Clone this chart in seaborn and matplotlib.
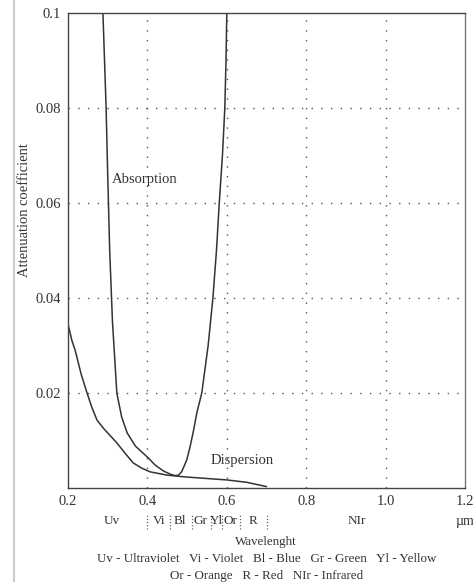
import matplotlib
matplotlib.use("Agg")
import matplotlib.pyplot as plt
from matplotlib.lines import Line2D
import seaborn as sns
import pandas as pd

# Absorption curve (wavelength in micrometres, attenuation coefficient)
absorption_x = [0.288, 0.292, 0.296, 0.300, 0.305, 0.312, 0.323, 0.335, 0.349,
                0.370, 0.400, 0.420, 0.440, 0.458, 0.470, 0.478, 0.486, 0.492,
                0.499, 0.507, 0.515, 0.525, 0.537, 0.553, 0.565, 0.574, 0.581,
                0.589, 0.595, 0.598, 0.600]
absorption_y = [0.100, 0.090, 0.080, 0.066, 0.050, 0.035, 0.020, 0.015, 0.0116,
                0.0088, 0.0065, 0.0048, 0.0036, 0.0029, 0.0026, 0.0027, 0.0034, 0.0045,
                0.0059, 0.0085, 0.0116, 0.0160, 0.020, 0.030, 0.040, 0.050, 0.060,
                0.070, 0.080, 0.090, 0.100]

# Dispersion curve
dispersion_x = [0.200, 0.210, 0.218, 0.233, 0.248, 0.260, 0.273, 0.290, 0.323,
                0.345, 0.364, 0.385, 0.407, 0.450, 0.500, 0.550, 0.600, 0.650, 0.700]
dispersion_y = [0.0345, 0.031, 0.029, 0.024, 0.020, 0.017, 0.0143, 0.0125, 0.0095,
                0.0072, 0.0053, 0.0042, 0.0034, 0.0027, 0.0023, 0.0020, 0.0017, 0.0012, 0.0003]

# Axis ticks
x_ticks = [0.2, 0.4, 0.6, 0.8, 1.0, 1.2]
x_tick_labels = ["0.2", "0.4", "0.6", "0.8", "1.0", "1.2"]
y_ticks = [0.02, 0.04, 0.06, 0.08, 0.1]
y_tick_labels = ["0.02", "0.04", "0.06", "0.08", "0.1"]

# Spectral bands below the axis
band_edges = [0.400, 0.457, 0.512, 0.559, 0.589, 0.633, 0.700]
band_labels = ["Uv", "Vi", "Bl", "Gr", "Yl", "Or", "R", "NIr"]
band_centers = [0.310, 0.430, 0.482, 0.534, 0.574, 0.610, 0.665, 0.928]

legend_lines = ["Uv - Ultraviolet   Vi - Violet   Bl - Blue   Gr - Green   Yl - Yellow",
                "Or - Orange   R - Red   NIr - Infrared"]

ink = "#333333"
serif = ["Liberation Serif", "DejaVu Serif"]

sns.set_theme(style="white")
plt.rcParams["font.family"] = serif
plt.rcParams["text.color"] = ink

fig = plt.figure(figsize=(4.73, 5.82), dpi=100)
ax = fig.add_axes([68 / 473, 1 - 488 / 582, 397 / 473, 475 / 582])

df_abs = pd.DataFrame({"x": absorption_x, "y": absorption_y})
df_dis = pd.DataFrame({"x": dispersion_x, "y": dispersion_y})
sns.lineplot(data=df_abs, x="x", y="y", ax=ax, color=ink, linewidth=1.1,
             sort=False, estimator=None)
sns.lineplot(data=df_dis, x="x", y="y", ax=ax, color=ink, linewidth=1.1,
             sort=False, estimator=None)

ax.set_xlim(0.2, 1.2)
ax.set_ylim(0.0, 0.1)
ax.set_xticks(x_ticks)
ax.set_xticklabels(x_tick_labels)
ax.set_yticks(y_ticks)
ax.set_yticklabels(y_tick_labels)
ax.tick_params(axis="both", length=0, pad=5, labelsize=10.5, labelcolor=ink)
ax.set_xlabel("")
ax.set_ylabel("")

# Y axis title, set a little above the axis midpoint
fig.text(25 / 473, 1 - 210 / 582, "Attenuation coefficient", rotation=90,
         ha="center", va="center", fontsize=10.5, color=ink)

# Dotted grid
for gx in [0.4, 0.6, 0.8, 1.0]:
    ax.axvline(gx, color="#555555", linestyle=(0, (1, 6)), linewidth=1.0, zorder=0)
for gy in [0.02, 0.04, 0.06, 0.08]:
    ax.axhline(gy, color="#555555", linestyle=(0, (1, 6)), linewidth=1.0, zorder=0)

for side in ["left", "bottom", "top"]:
    ax.spines[side].set_color("#444444")
    ax.spines[side].set_linewidth(1.0)
ax.spines["right"].set_color("#777777")
ax.spines["right"].set_linewidth(1.0)

ax.text(0.31, 0.065, "Absorption", fontsize=10.5, color=ink, va="center", ha="left")
ax.text(0.558, 0.0058, "Dispersion", fontsize=10.5, color=ink, va="center", ha="left")

# Band row under the tick labels
trans = ax.get_xaxis_transform()
band_y = -33 / 475
for lbl, cx in zip(band_labels, band_centers):
    ax.text(cx, band_y, lbl, transform=trans, ha="center", va="center",
            fontsize=9.5, color=ink, clip_on=False)
for e in band_edges:
    ax.add_line(Line2D([e, e], [-41 / 475, -27 / 475], transform=trans,
                       color="#666666", linestyle=(0, (1, 1.5)), linewidth=0.9,
                       clip_on=False))
ax.text(1.2, band_y, "\u00b5m", transform=trans, ha="center", va="center",
        fontsize=10, color=ink, clip_on=False)

fig.text(266 / 473, 1 - 542 / 582, "Wavelenght", ha="center", va="center",
         fontsize=9.4, color=ink)
fig.text(267 / 473, 1 - 559.5 / 582, legend_lines[0],
         ha="center", va="center", fontsize=9.4, color=ink)
fig.text(267 / 473, 1 - 575.5 / 582, legend_lines[1],
         ha="center", va="center", fontsize=9.4, color=ink)

# Page edge on the left
fig.add_artist(Line2D([14 / 473, 14 / 473], [0, 1], transform=fig.transFigure,
                      color="#cccccc", linewidth=1.5))

fig.savefig("out.png", dpi=100)
